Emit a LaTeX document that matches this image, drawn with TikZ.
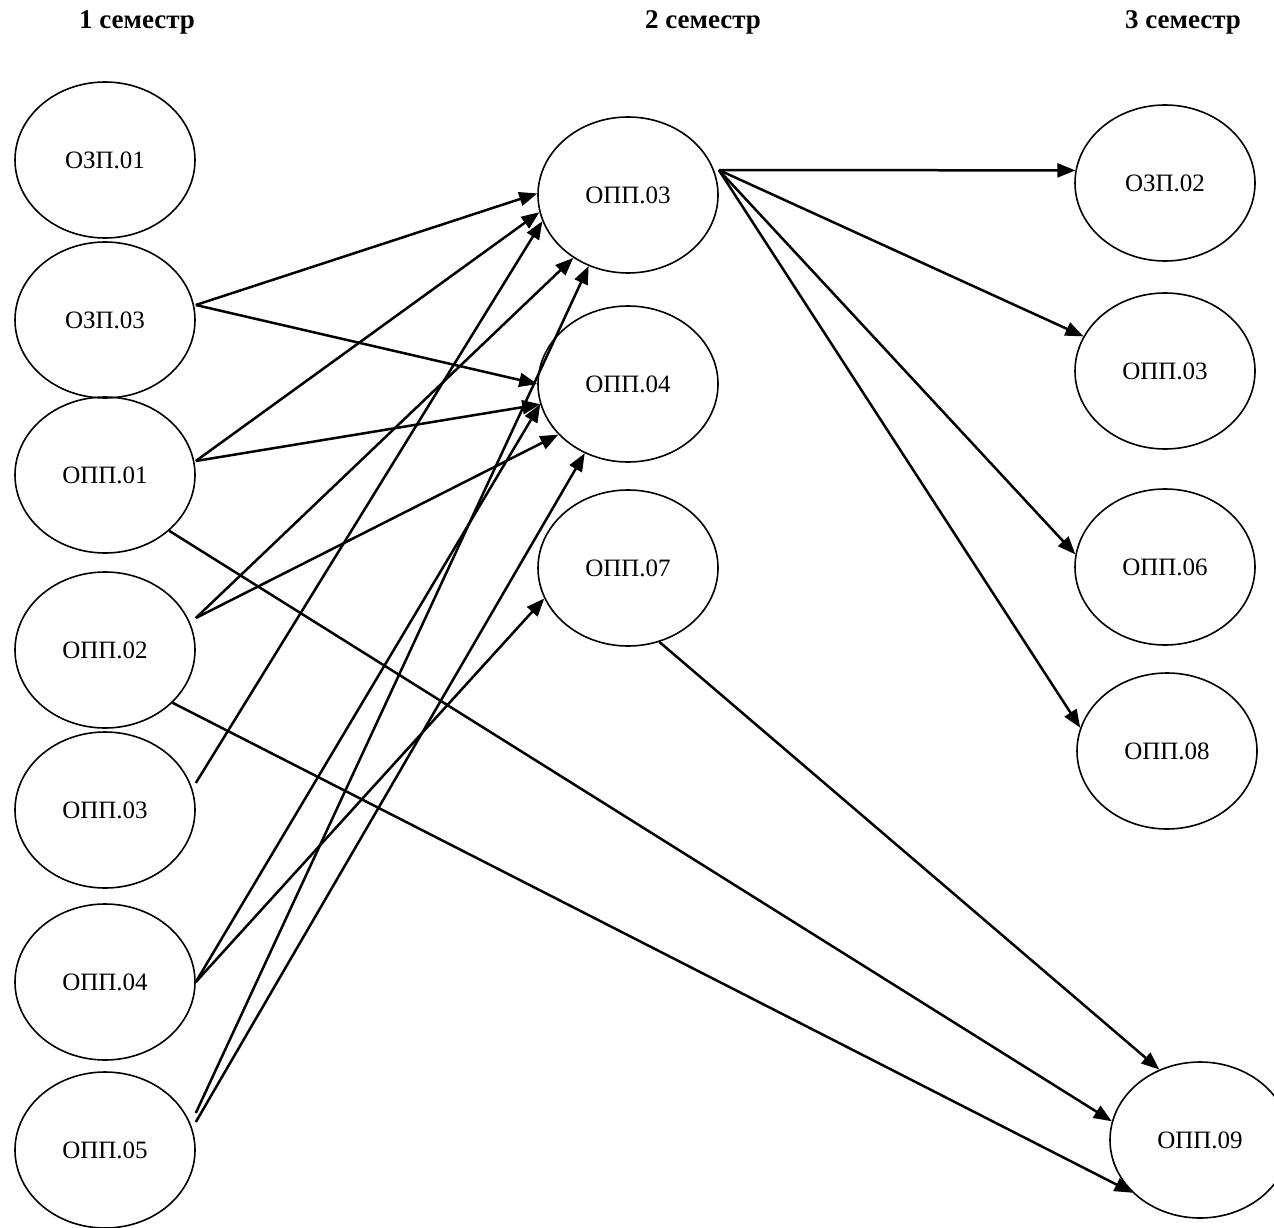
\documentclass[tikz,border=0pt]{standalone}
\usepackage{fontspec}
\setmainfont{Liberation Serif}
\usetikzlibrary{shapes.geometric,arrows.meta}
\begin{document}
\begin{tikzpicture}[x=1pt,y=-1pt,
  disc/.style={ellipse,draw,line width=1.6pt,minimum width=180pt,minimum height=156pt,inner sep=0pt,font=\fontsize{25}{30}\selectfont},
  head/.style={font=\fontsize{27}{32}\selectfont\bfseries},
  arr/.style={line width=2.5pt,-{Triangle[length=18pt,width=14pt]}}]
\useasboundingbox (0,0) rectangle (1274,1228);
\node[head] (h1) at (137,22) {1 семестр};
\node[head] (h2) at (703,22) {2 семестр};
\node[head] (h3) at (1183,22) {3 семестр};
\node[disc] (L1) at (105,160) {ОЗП.01};
\node[disc] (L2) at (105,320) {ОЗП.03};
\node[disc] (L3) at (105,475) {ОПП.01};
\node[disc] (L4) at (105,650) {ОПП.02};
\node[disc] (L5) at (105,810) {ОПП.03};
\node[disc] (L6) at (105,982) {ОПП.04};
\node[disc] (L7) at (105,1150) {ОПП.05};
\node[disc] (M1) at (628,195) {ОПП.03};
\node[disc] (M2) at (628,384) {ОПП.04};
\node[disc] (M3) at (628,568) {ОПП.07};
\node[disc] (R1) at (1165,183) {ОЗП.02};
\node[disc] (R2) at (1165,371) {ОПП.03};
\node[disc] (R3) at (1165,567) {ОПП.06};
\node[disc] (R4) at (1167,751) {ОПП.08};
\node[disc] (R5) at (1200,1140) {ОПП.09};
\draw[arr] ([yshift=15pt]L2.east) -- (M1.179);
\draw[arr] ([yshift=15pt]L2.east) -- (M2.180);
\draw[arr] ([yshift=14pt]L3.east) -- (M1.191);
\draw[arr] ([yshift=14pt]L3.east) -- (M2.193);
\draw[arr] (L3.-41) -- (R5.168);
\draw[arr] ([yshift=32pt]L4.east) -- (M1.229);
\draw[arr] ([yshift=32pt]L4.east) -- (M2.216);
\draw[arr] (L4.-38) -- (R5.218);
\draw[arr] ([yshift=27pt]L5.east) -- (M1.197);
\draw[arr] (L6.east) -- (M2.193);
\draw[arr] (L6.east) -- (M3.200);
\draw[arr] ([yshift=37pt]L7.east) -- (M1.241);
\draw[arr] ([yshift=28pt]L7.east) -- (M2.238);
\draw[arr] (M3.-67) -- (R5.120);
\draw[arr] ([yshift=25pt]M1.east) -- (R1.172);
\draw[arr] ([yshift=25pt]M1.east) -- (R2.157);
\draw[arr] ([yshift=25pt]M1.east) -- (R3.172);
\draw[arr] ([yshift=25pt]M1.east) -- (R4.165);
\end{tikzpicture}
\end{document}
